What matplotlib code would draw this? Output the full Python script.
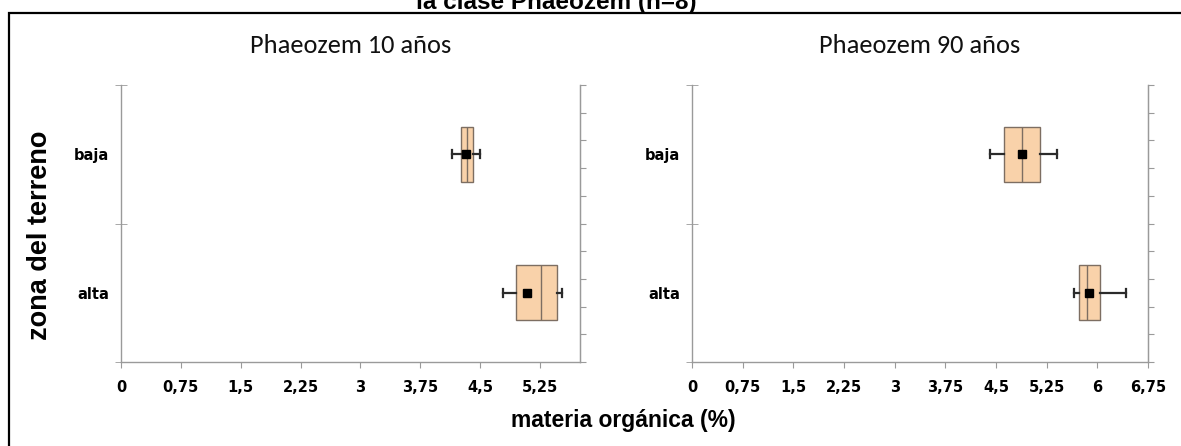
import matplotlib
matplotlib.use("Agg")
import matplotlib.pyplot as plt
from matplotlib.patches import Rectangle
from matplotlib import font_manager
import numpy as np

# ---------------- data ----------------
categories = ["alta", "baja"]
panel_titles = ["Phaeozem 10 años", "Phaeozem 90 años"]

# Phaeozem 10 años (order: alta, baja)
p10_whislo = [4.78, 4.15]
p10_q1 = [4.95, 4.26]
p10_med = [5.26, 4.34]
p10_q3 = [5.46, 4.41]
p10_whishi = [5.52, 4.50]
p10_mean = [5.08, 4.32]

# Phaeozem 90 años (order: alta, baja)
p90_whislo = [5.66, 4.41]
p90_q1 = [5.73, 4.62]
p90_med = [5.84, 4.89]
p90_q3 = [6.04, 5.15]
p90_whishi = [6.42, 5.40]
p90_mean = [5.88, 4.89]

xticks_10 = [0, 0.75, 1.5, 2.25, 3, 3.75, 4.5, 5.25]
xticklabels_10 = ["0", "0,75", "1,5", "2,25", "3", "3,75", "4,5", "5,25"]
xticks_90 = [0, 0.75, 1.5, 2.25, 3, 3.75, 4.5, 5.25, 6, 6.75]
xticklabels_90 = ["0", "0,75", "1,5", "2,25", "3", "3,75", "4,5", "5,25", "6", "6,75"]

suptitle = "la clase Phaeozem (n=8)"
xlabel = "materia orgánica (%)"
ylabel = "zona del terreno"

# ---------------- fonts ----------------
avail = {f.name for f in font_manager.fontManager.ttflist}
narrow = "Liberation Sans Narrow" if "Liberation Sans Narrow" in avail else "DejaVu Sans"
title_font = "Carlito" if "Carlito" in avail else "Lato"
bold_font = "Liberation Sans"

W, H = 1181, 446
fig = plt.figure(figsize=(W / 100, H / 100), dpi=100)

grey = "#9a9a9a"
box_face = "#F9D2AA"
box_edge = "#7d6e62"


def make_panel(rect, whislo, q1, med, q3, whishi, mean, xmax, xticks, xticklabels, title):
    ax = fig.add_axes(rect)
    stats = []
    for i in range(len(categories)):
        stats.append(dict(whislo=whislo[i], q1=q1[i], med=med[i], q3=q3[i],
                          whishi=whishi[i], mean=mean[i], fliers=[]))
    positions = [0.5, 1.5]
    ax.bxp(stats, positions=positions, vert=False, widths=0.40, capwidths=0.06,
           patch_artist=True, showmeans=True, showfliers=False,
           boxprops=dict(facecolor=box_face, edgecolor=box_edge, linewidth=1.0),
           medianprops=dict(color=box_edge, linewidth=1.0),
           whiskerprops=dict(color="#2b2b2b", linewidth=1.6),
           capprops=dict(color="#2b2b2b", linewidth=1.6),
           meanprops=dict(marker="s", markerfacecolor="black", markeredgecolor="black",
                          markersize=5.5))
    ax.set_xlim(0, xmax)
    ax.set_ylim(0, 2)
    ax.spines["top"].set_visible(False)
    for s in ["left", "bottom", "right"]:
        ax.spines[s].set_color(grey)
        ax.spines[s].set_linewidth(1.0)
    ax.set_xticks(xticks)
    ax.set_xticklabels(xticklabels, fontfamily=narrow, fontweight="bold", fontsize=10.5)
    ax.tick_params(axis="x", direction="out", length=4, color=grey, pad=9)
    ax.set_yticks(positions)
    ax.set_yticklabels(categories, fontfamily=narrow, fontweight="bold", fontsize=10.5)
    ax.set_yticks([0, 1, 2], minor=True)
    ax.tick_params(axis="y", which="major", length=0, pad=8.5)
    ax.tick_params(axis="y", which="minor", length=8, direction="inout", color=grey)
    sec = ax.secondary_yaxis("right")
    sec.set_yticks(np.linspace(0, 2, 11))
    sec.set_yticklabels([])
    sec.tick_params(direction="out", length=4, color=grey)
    sec.spines["right"].set_color(grey)
    ax.set_title(title, fontfamily=title_font, fontsize=19, pad=23, color="#111111")
    return ax


ax1 = make_panel([121 / W, 1 - 362 / H, (580 - 121) / W, (362 - 85) / H],
                 p10_whislo, p10_q1, p10_med, p10_q3, p10_whishi, p10_mean,
                 5.75, xticks_10, xticklabels_10, panel_titles[0])
ax2 = make_panel([692 / W, 1 - 362 / H, (1148 - 692) / W, (362 - 85) / H],
                 p90_whislo, p90_q1, p90_med, p90_q3, p90_whishi, p90_mean,
                 6.75, xticks_90, xticklabels_90, panel_titles[1])

fig.text(623 / W, 1 - 421 / H, xlabel, ha="center", va="center",
         fontfamily=bold_font, fontweight="bold", fontsize=16.5)
fig.text(40 / W, 1 - 235 / H, ylabel, ha="center", va="center", rotation=90,
         fontfamily=bold_font, fontweight="bold", fontsize=19.5)
fig.text(556 / W, 1 - 8.5 / H, suptitle, ha="center", va="baseline",
         fontfamily=bold_font, fontweight="bold", fontsize=17.5)

fig.patches.append(Rectangle((9 / W, -0.05), 1.2, 1 - 12.5 / H + 0.05, transform=fig.transFigure,
                             fill=False, edgecolor="black", linewidth=1.6))

fig.savefig("out.png", dpi=100)
